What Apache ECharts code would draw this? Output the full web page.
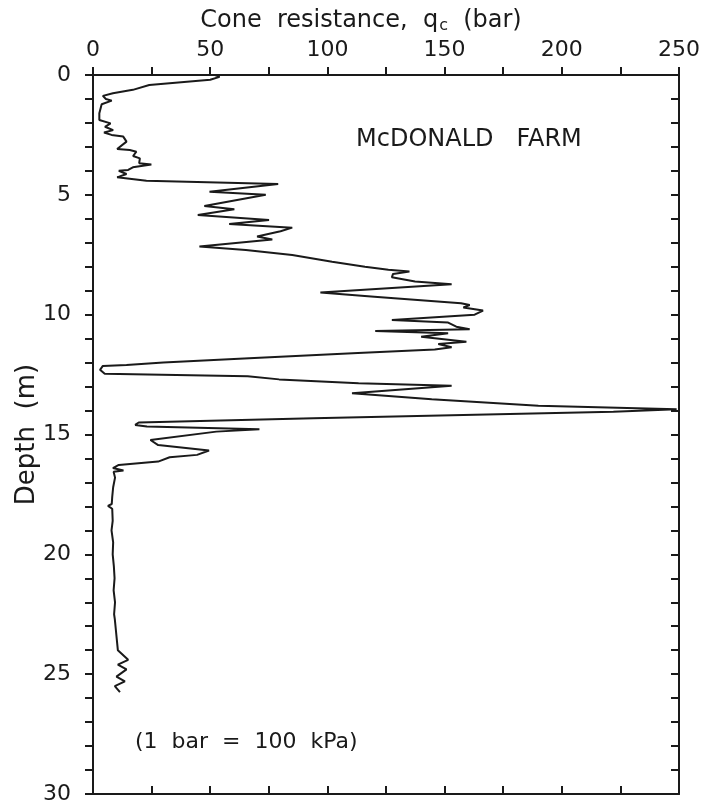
<!DOCTYPE html>
<html>
<head>
<meta charset="utf-8">
<script src="https://cdn.jsdelivr.net/npm/echarts@6/dist/echarts.min.js"></script>
<style>
  html, body { margin: 0; padding: 0; background: #fff; }
  #chart { width: 703px; height: 808px; }
</style>
</head>
<body>
<div id="chart"></div>
<script>
var depths = [
  0.00, 0.08, 0.20, 0.42, 0.62, 0.76, 0.87, 1.00, 1.07, 1.22, 1.60, 1.88, 2.02, 2.16, 2.30, 2.40,
  2.50, 2.57, 2.78, 3.09, 3.13, 3.20, 3.38, 3.48, 3.68, 3.73, 3.85, 3.96, 4.00, 4.13, 4.27, 4.41,
  4.55, 4.87, 5.00, 5.47, 5.60, 5.84, 6.05, 6.22, 6.37, 6.52, 6.74, 6.86, 7.16, 7.30, 7.51, 7.79,
  8.00, 8.13, 8.20, 8.30, 8.44, 8.62, 8.73, 9.08, 9.25, 9.52, 9.60, 9.70, 9.83, 10.00, 10.22, 10.33,
  10.50, 10.61, 10.68, 10.78, 10.92, 11.13, 11.22, 11.36, 11.45, 11.60, 11.82, 12.00, 12.10, 12.14,
  12.30, 12.47, 12.57, 12.70, 12.86, 12.97, 13.28, 13.53, 13.80, 13.95, 14.05, 14.32, 14.50, 14.60,
  14.67, 14.78, 14.88, 15.23, 15.44, 15.67, 15.85, 15.95, 16.13, 16.27, 16.40, 16.45, 16.50, 16.55,
  16.80, 17.20, 17.60, 17.90, 17.98, 18.10, 18.60, 19.00, 19.50, 20.00, 20.50, 21.00, 21.50, 22.00,
  22.50, 22.70, 23.20, 23.60, 24.00, 24.40, 24.60, 24.80, 25.10, 25.30, 25.50, 25.75
];
var qc = [
  52, 54, 50, 24, 17, 8.5, 4.2, 5.5, 8, 3.7, 2.7, 2.7, 7.5, 5.1, 8.6, 4.7,
  7.9, 12.9, 14.3, 10.3, 15.7, 18.5, 17.1, 20, 19.7, 24.9, 17, 15, 11, 14.3, 10.3, 22.8,
  79, 49.7, 73.7, 47.5, 60.3, 44.7, 75.1, 58.1, 85, 80, 70, 76.5, 45.4, 65.2, 85, 102,
  116, 126, 135, 128, 127.5, 137.4, 153, 97, 120, 157, 160.7, 158, 166.4, 162.8, 127.5, 151.5,
  155, 160.7, 120.4, 151.5, 140, 159.3, 147.3, 153, 145.8, 113, 66.6, 30, 14.3, 4.2,
  3, 5, 66, 79.4, 113.3, 153, 110.5, 144.5, 190, 249, 222, 94, 19.5, 18,
  23, 71, 52.6, 24.5, 27.8, 49.5, 44.4, 32.7, 27.8, 11, 8.5, 9, 13, 8.8,
  9.4, 8.6, 8.2, 8.0, 6.4, 8.2, 8.4, 7.9, 8.6, 8.4, 8.9, 9.2, 8.8, 9.4,
  9.0, 9.3, 9.8, 10.2, 10.6, 15, 10.6, 14.3, 10, 13.6, 9.3, 11.5
];
var qcTicks = [0, 50, 100, 150, 200, 250];
var depthTicks = [0, 5, 10, 15, 20, 25, 30];

var points = depths.map(function (d, i) { return [qc[i], d]; });

var font = 'DejaVu Sans';
var ink = '#1a1a1a';

var chart = echarts.init(document.getElementById('chart'));

function axisBase() {
  return {
    type: 'value',
    axisLine: { show: true, onZero: false, lineStyle: { color: ink, width: 2 } },
    axisTick: { show: true, length: 8, lineStyle: { color: ink, width: 2 } },
    splitLine: { show: false }
  };
}

var xTop = axisBase();
Object.assign(xTop, {
  position: 'top', min: 0, max: 250, interval: 25,
  axisLabel: {
    margin: 14, fontSize: 22, fontFamily: font, color: ink,
    formatter: function (v) { return qcTicks.indexOf(v) >= 0 ? String(v) : ''; }
  },
  name: '{a|Cone  resistance,  q}{s|c}{a|  (bar)}',
  nameLocation: 'middle',
  nameGap: 39,
  nameTextStyle: {
    padding: [0, 50, 0, 0],
    rich: {
      a: { fontSize: 24, fontFamily: font, color: ink },
      s: { fontSize: 16, fontFamily: font, color: ink, padding: [10, 0, 0, 1] }
    }
  }
});
xTop.axisTick.inside = false;

var xBottom = axisBase();
Object.assign(xBottom, {
  position: 'bottom', min: 0, max: 250, interval: 25,
  axisLabel: { show: false }
});
xBottom.axisTick.inside = true;

var yLeft = axisBase();
Object.assign(yLeft, {
  position: 'left', inverse: true, min: 0, max: 30, interval: 1,
  axisLabel: {
    margin: 22, fontSize: 22, fontFamily: font, color: ink,
    formatter: function (v) { return depthTicks.indexOf(v) >= 0 ? String(v) : ''; }
  },
  name: 'Depth  (m)',
  nameLocation: 'middle',
  nameGap: 53,
  nameMoveOverlap: false,
  nameRotate: 90,
  nameTextStyle: { fontSize: 26, fontFamily: font, color: ink }
});
yLeft.axisTick.inside = false;

var yRight = axisBase();
Object.assign(yRight, {
  position: 'right', inverse: true, min: 0, max: 30, interval: 1,
  axisLabel: { show: false }
});
yRight.axisTick.inside = true;

chart.setOption({
  animation: false,
  backgroundColor: '#fff',
  grid: { left: 93, right: 21, top: 75, bottom: 14 },
  xAxis: [xTop, xBottom],
  yAxis: [yLeft, yRight],
  graphic: [
    {
      type: 'text', left: 356, top: 128,
      style: { text: 'McDONALD   FARM', fontSize: 24, fontFamily: font, fill: ink }
    },
    {
      type: 'text', left: 135, top: 731,
      style: { text: '(1  bar  =  100  kPa)', fontSize: 22, fontFamily: font, fill: ink }
    }
  ],
  series: [
    {
      type: 'line',
      xAxisIndex: 0,
      yAxisIndex: 0,
      data: points,
      showSymbol: false,
      smooth: false,
      lineStyle: { color: ink, width: 2 }
    }
  ]
});
</script>
</body>
</html>
